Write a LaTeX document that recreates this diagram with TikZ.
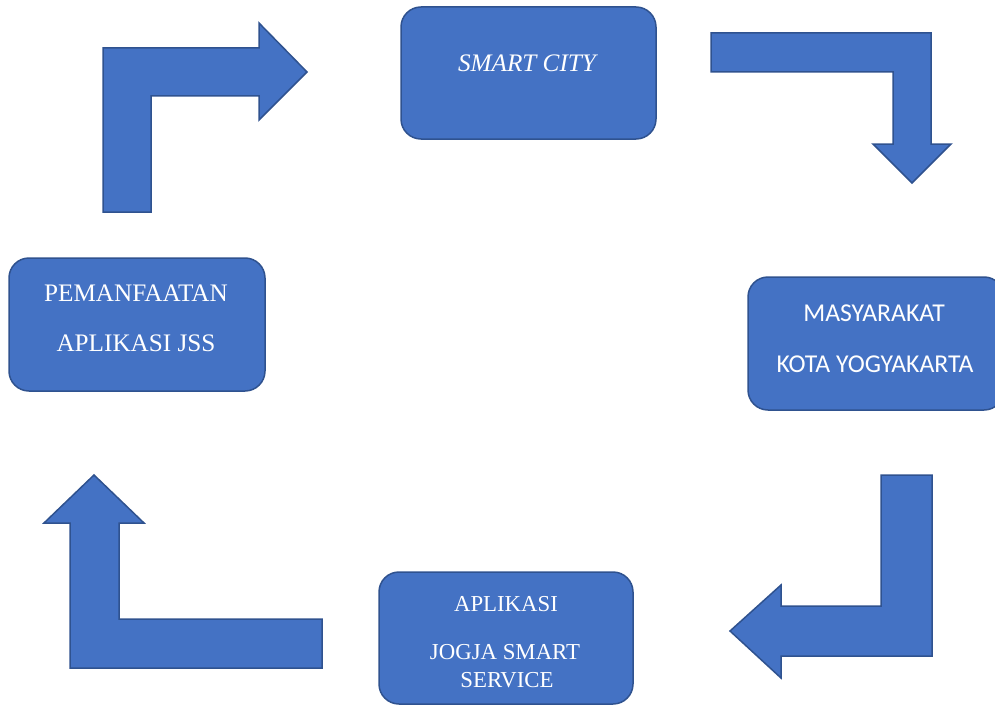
\documentclass[tikz,border=0pt]{standalone}
\usepackage{fontspec}
\setmainfont{Liberation Serif}
\newfontfamily\calibrifont{Carlito}
\definecolor{officeblue}{HTML}{4472C4}
\definecolor{officeedge}{HTML}{2F528F}
\tikzset{
  box/.style={draw=officeedge, fill=officeblue, line width=1.5pt, rounded corners=20pt, inner sep=0pt},
  bentarrow/.style={draw=officeedge, fill=officeblue, line width=1.5pt, line join=miter},
  boxtext/.style={text=white, anchor=base, inner sep=0pt, font=\fontsize{25.2}{30}\selectfont},
  boxtextsmall/.style={text=white, anchor=base, inner sep=0pt, font=\fontsize{22.8}{28}\selectfont},
  boxtextsans/.style={text=white, anchor=base, inner sep=0pt, font=\calibrifont\fontsize{25.7}{30}\selectfont}
}
\begin{document}
\begin{tikzpicture}[x=1pt,y=-1pt]
\useasboundingbox (0,0) rectangle (995,706);
\clip (0,0) rectangle (995,706);
% boxes
\node[box, minimum width=255pt, minimum height=132pt] (smart) at (528.5,73) {};
\node[box, minimum width=256pt, minimum height=133pt] (pem) at (137,324.5) {};
\node[box, minimum width=256pt, minimum height=133pt] (mas) at (876,343.5) {};
\node[box, minimum width=254pt, minimum height=132pt] (apl) at (506,638) {};
% texts
\node[boxtext] (t1) at (527,71.3) {\itshape SMART CITY};
\node[boxtext] (t2) at (136,301.3) {PEMANFAATAN};
\node[boxtext] (t3) at (136,351.3) {APLIKASI JSS};
\node[boxtextsans] (t4) at (874,321) {MASYARAKAT};
\node[boxtextsans] (t5) at (875,372) {KOTA YOGYAKARTA};
\node[boxtextsmall] (t6) at (506,611.5) {APLIKASI};
\node[boxtextsmall] (t7) at (505,659.5) {JOGJA SMART};
\node[boxtextsmall] (t8) at (507,687.5) {SERVICE};
% bent block arrows
\draw[bentarrow] (103,212) -- (103,48) -- (259,48) -- (259,23) -- (307,72) -- (259,120) -- (259,96) -- (151,96) -- (151,212) -- cycle;
\draw[bentarrow] (711,33) -- (931,33) -- (931,144) -- (951,144) -- (912,183) -- (873,144) -- (893,144) -- (893,72) -- (711,72) -- cycle;
\draw[bentarrow] (881,475) -- (932,475) -- (932,656) -- (781,656) -- (781,678) -- (730,631) -- (781,585) -- (781,606) -- (881,606) -- cycle;
\draw[bentarrow] (70,668) -- (70,523) -- (44,523) -- (94,475) -- (144,523) -- (119,523) -- (119,619) -- (322,619) -- (322,668) -- cycle;
\end{tikzpicture}
\end{document}
